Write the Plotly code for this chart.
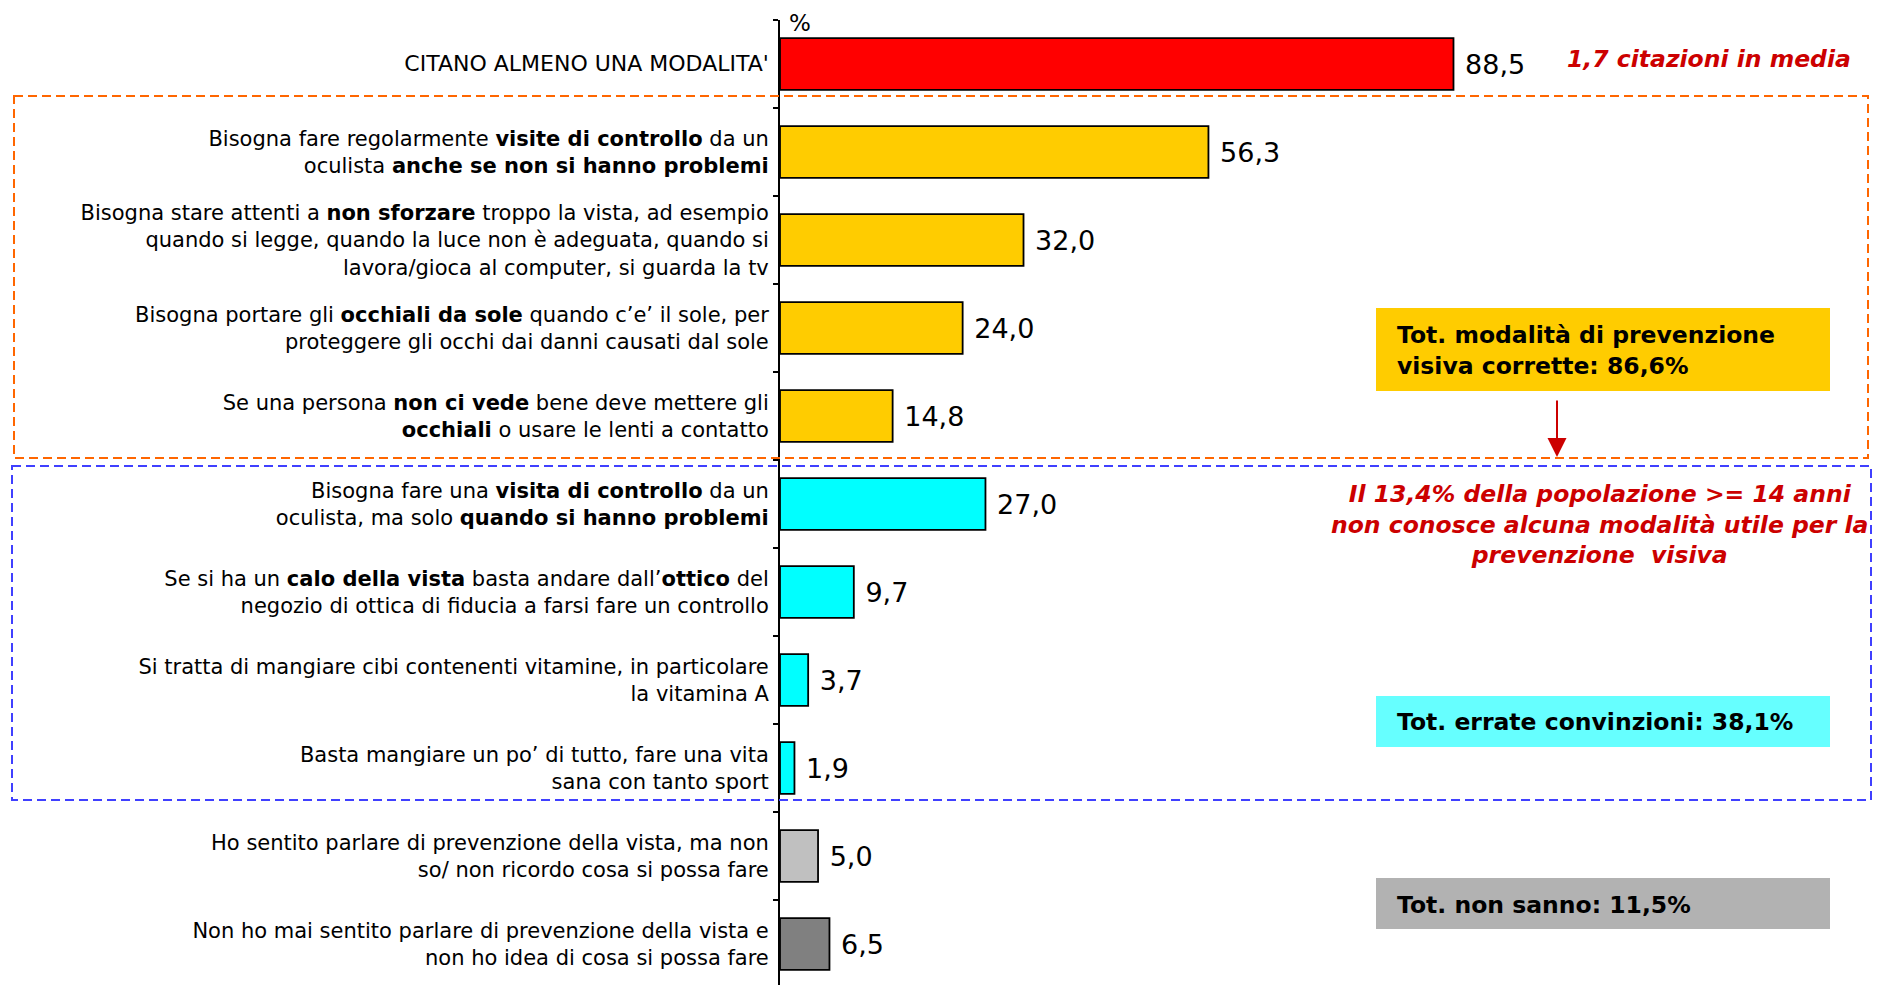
import plotly.graph_objects as go

# ---------------- data ----------------
categories = [
    "<span style=\"font-size:22px\">CITANO ALMENO UNA MODALITA'</span>",
    "Bisogna fare regolarmente <b>visite di controllo</b> da un<br>oculista <b>anche se non si hanno problemi</b>",
    "Bisogna stare attenti a <b>non sforzare</b> troppo la vista, ad esempio<br>quando si legge, quando la luce non è adeguata, quando si<br>lavora/gioca al computer, si guarda la tv",
    "Bisogna portare gli <b>occhiali da sole</b> quando c’e’ il sole, per<br>proteggere gli occhi dai danni causati dal sole",
    "Se una persona <b>non ci vede</b> bene deve mettere gli<br><b>occhiali</b> o usare le lenti a contatto",
    "Bisogna fare una <b>visita di controllo</b> da un<br>oculista, ma solo <b>quando si hanno problemi</b>",
    "Se si ha un <b>calo della vista</b> basta andare dall’<b>ottico</b> del<br>negozio di ottica di fiducia a farsi fare un controllo",
    "Si tratta di mangiare cibi contenenti vitamine, in particolare<br>la vitamina A",
    "Basta mangiare un po’ di tutto, fare una vita<br>sana con tanto sport",
    "Ho sentito parlare di prevenzione della vista, ma non<br>so/ non ricordo cosa si possa fare",
    "Non ho mai sentito parlare di prevenzione della vista e<br>non ho idea di cosa si possa fare",
]
values = [88.5, 56.3, 32.0, 24.0, 14.8, 27.0, 9.7, 3.7, 1.9, 5.0, 6.5]
bar_colors = ["#FF0000", "#FFCC00", "#FFCC00", "#FFCC00", "#FFCC00",
              "#00FFFF", "#00FFFF", "#00FFFF", "#00FFFF", "#C0C0C0", "#808080"]

note_media = "1,7 citazioni in media"
box_correct = "Tot. modalità di prevenzione<br>visiva corrette: 86,6%"
box_wrong = "Tot. errate convinzioni: 38,1%"
box_dontknow = "Tot. non sanno: 11,5%"
note_pop = ("Il 13,4% della popolazione >= 14 anni<br>"
            "non conosce alcuna modalità utile per la<br>"
            "prevenzione\u00a0 visiva")

# ---------------- layout geometry (page pixel coordinates) ----------------
PAGE_W, PAGE_H = 1885, 985
BODY = 8                       # default body margin of the html page
W, H = PAGE_W - BODY, PAGE_H - BODY
AXIS_X, PLOT_TOP = 780, 20     # page position of the value axis / plot top
ML, MT, MR, MB = AXIS_X - BODY, PLOT_TOP - BODY, 0, 0
PX_PER_UNIT = 7.61
CAT_PX = 88.0
plot_w = W - ML - MR
plot_h = H - MT - MB


def px(x):
    return (x - AXIS_X) / plot_w


def py(y):
    return 1 - (y - PLOT_TOP) / plot_h


FONT = "DejaVu Sans"
RED = "#CC0000"

fig = go.Figure(go.Bar(
    y=categories, x=values, orientation="h",
    marker=dict(color=bar_colors, line=dict(color="black", width=1.8)),
    width=0.59,
    texttemplate="\u00a0%{x:.1f}", textposition="outside",
    textfont=dict(family=FONT, size=27, color="black"),
    constraintext="none", cliponaxis=False, hoverinfo="skip",
))

shapes = []
# dashed group frames
shapes.append(dict(type="rect", xref="paper", yref="paper",
                   x0=px(14), x1=px(1868), y0=py(96), y1=py(458),
                   line=dict(color="#FF6600", width=2, dash="9px,5px"),
                   fillcolor="rgba(0,0,0,0)", layer="above"))
shapes.append(dict(type="rect", xref="paper", yref="paper",
                   x0=px(12), x1=px(1871), y0=py(466), y1=py(800),
                   line=dict(color="#4040FF", width=2, dash="9px,5px"),
                   fillcolor="rgba(0,0,0,0)", layer="above"))
# coloured summary boxes
for (y0, y1, col) in [(308, 391, "#FFCC00"), (696, 747, "#66FFFF"), (878, 929, "#B2B2B2")]:
    shapes.append(dict(type="rect", xref="paper", yref="paper",
                       x0=px(1376), x1=px(1830), y0=py(y0), y1=py(y1),
                       line=dict(width=0), fillcolor=col, layer="above"))

annotations = [
    dict(text="%", x=px(800), y=py(23), xref="paper", yref="paper",
         xanchor="center", yanchor="middle", showarrow=False,
         font=dict(family=FONT, size=23, color="black")),
    dict(text=f"<b><i>{note_media}</i></b>", x=px(1565), y=py(59), xref="paper", yref="paper",
         xanchor="left", yanchor="middle", showarrow=False,
         font=dict(family=FONT, size=23.5, color=RED)),
    dict(text=f"<b>{box_correct}</b>", x=px(1395), y=py(351), xref="paper", yref="paper",
         xanchor="left", yanchor="middle", align="left", showarrow=False,
         font=dict(family=FONT, size=23.5, color="black")),
    dict(text=f"<b>{box_wrong}</b>", x=px(1395), y=py(722), xref="paper", yref="paper",
         xanchor="left", yanchor="middle", align="left", showarrow=False,
         font=dict(family=FONT, size=23.5, color="black")),
    dict(text=f"<b>{box_dontknow}</b>", x=px(1395), y=py(905), xref="paper", yref="paper",
         xanchor="left", yanchor="middle", align="left", showarrow=False,
         font=dict(family=FONT, size=23.5, color="black")),
    dict(text=f"<b><i>{note_pop}</i></b>", x=px(1599), y=py(524), xref="paper", yref="paper",
         xanchor="center", yanchor="middle", align="center", showarrow=False,
         font=dict(family=FONT, size=23.5, color=RED)),
    dict(text="", x=px(1557), y=py(457), xref="paper", yref="paper",
         ax=0, ay=-58, showarrow=True, arrowhead=2, arrowsize=1.9,
         arrowwidth=2, arrowcolor=RED),
]

fig.update_layout(
    width=W, height=H,
    margin=dict(l=ML, r=MR, t=MT, b=MB, pad=0),
    paper_bgcolor="white", plot_bgcolor="rgba(0,0,0,0)",
    separators=",.",
    showlegend=False,
    font=dict(family=FONT, color="black"),
    shapes=shapes, annotations=annotations,
    xaxis=dict(range=[0, plot_w / PX_PER_UNIT], visible=False, fixedrange=True),
    yaxis=dict(
        type="category", categoryorder="array", categoryarray=categories,
        range=[-0.5 + plot_h / CAT_PX, -0.5],
        showline=True, linecolor="black", linewidth=2,
        ticks="outside", ticklen=5, tickwidth=2, tickcolor="black",
        tickson="boundaries", ticklabelstandoff=5,
        showgrid=False, zeroline=False,
        tickfont=dict(family=FONT, size=21, color="black"),
        fixedrange=True,
    ),
)

fig.write_html("out.html")
